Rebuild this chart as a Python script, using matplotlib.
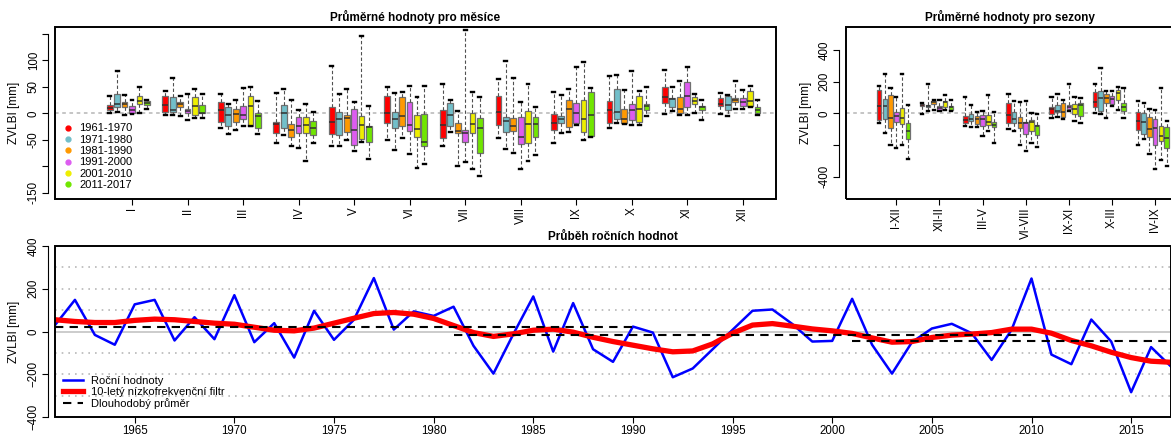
import matplotlib.pyplot as plt
from matplotlib.patches import Rectangle
from matplotlib.lines import Line2D
import numpy as np

plt.rcParams['font.family'] = ['Liberation Sans', 'DejaVu Sans']

# obdobi a barvy krabic
obdobi = ['1961-1970', '1971-1980', '1981-1990', '1991-2000', '2001-2010', '2011-2017']
barvy = ['#FF0000', '#72BFCA', '#FF9900', '#DD5CF0', '#EEEE00', '#70E600']

mesice = ['I', 'II', 'III', 'IV', 'V', 'VI', 'VII', 'VIII', 'IX', 'X', 'XI', 'XII']
sezony = ['I-XII', 'XII-II', 'III-V', 'VI-VIII', 'IX-XI', 'X-III', 'IV-IX']

# mesice: radek = mesic, sloupec = obdobi
mes_hi = [[32, 80, 35, 26, 49, 26], [42, 67, 33, 36, 46, 37], [37, 18, 25, 47, 50, 23],
          [38, 46, 26, 7, 18, 3], [90, 36, 45, 21, 146, 14], [50, 38, 40, 52, 31, 52],
          [55, 26, 4, 158, 41, 31], [64, 98, 66, 21, 56, 12], [40, 34, 45, 87, 97, 47],
          [71, 73, 44, 79, 42, 49], [82, 50, 61, 87, 36, 26], [38, 35, 61, 44, 52, 25]]
mes_q3 = [[15, 37, 21, 13, 32, 23], [33, 31, 22, 9, 30, 16], [22, 12, 8, 13, 33, 0],
          [-17, 15, -20, -7, -7, -15], [11, 3, -4, 8, -6, -25], [33, 3, 30, 21, -3, -1],
          [6, 20, -18, -31, 1, -9], [33, -7, -9, -8, 5, -7], [-1, -6, 26, 20, 26, 41],
          [23, 45, 8, 18, 33, 17], [50, 29, 30, 59, 30, 14], [28, 33, 29, 29, 43, 12]]
mes_med = [[10, 17, 17, 6, 23, 20], [15, 7, 17, 4, 13, 1], [6, -4, -2, -4, 13, -6],
           [-20, 0, -32, -25, -23, -28], [-17, -11, -9, -31, -23, -26], [0, -11, -6, -23, -30, -54],
           [-23, -4, -34, -37, -20, -27], [2, -14, -24, -45, -21, -21], [-18, -11, 8, 0, -11, -4],
           [7, 3, -11, 6, 8, 13], [30, 27, 9, 32, 23, 11], [18, 15, 26, 21, 23, 6]]
mes_q1 = [[6, 12, 12, 1, 18, 15], [2, 3, 11, 1, -3, 0], [-16, -25, -16, -10, -24, -28],
          [-37, -28, -45, -37, -37, -42], [-40, -42, -35, -60, -48, -55], [-18, -28, -25, -33, -45, -62],
          [-46, -25, -38, -55, -38, -75], [-22, -35, -33, -59, -57, -44], [-31, -18, -26, -18, -35, -43],
          [-19, -10, -18, -13, -17, 7], [20, 11, 1, 11, 18, 6], [13, 6, 21, 13, 13, 1]]
mes_lo = [[0, 3, -4, -1, 0, 9], [-3, -4, -6, -12, -9, -9], [-28, -40, -32, -25, -25, -40],
          [-56, -41, -61, -66, -90, -57], [-61, -62, -50, -71, -54, -86], [-50, -69, -47, -77, -103, -95],
          [-61, -35, -100, -93, -105, -119], [-47, -67, -76, -106, -90, -78], [-56, -37, -35, -22, -50, -45],
          [-27, -18, -21, -22, -22, -5], [-1, 5, -3, -3, 1, -13], [-2, -6, 8, 8, 11, -3]]

# sezony: radek = sezona, sloupec = obdobi
sez_hi = [[174, 250, 163, 104, 250, 55], [68, 182, 87, 87, 114, 83], [104, 51, 11, 13, 114, 6],
          [121, 76, 72, 78, 4, -2], [104, 125, 83, 182, 104, 97], [182, 288, 138, 138, 167, 163],
          [76, 66, 30, 21, 157, -51]]
sez_q3 = [[150, 91, 114, 11, 36, -63], [59, 55, 78, 44, 78, 49], [-15, -2, -15, -13, -8, -57],
          [68, 11, -25, -53, -40, -72], [40, 55, 66, 55, 61, 66], [135, 138, 121, 112, 150, 63],
          [11, 4, -25, -38, -78, -85]]
sez_med = [[44, 44, -32, -17, -28, -110], [53, 49, 70, 36, 70, 38], [-42, -34, -38, -38, -57, -72],
           [-11, -38, -59, -61, -57, -83], [30, 17, 11, 40, 30, 55], [72, 95, 97, 91, 127, 42],
           [-51, -55, -99, -93, -146, -157]]
sez_q1 = [[-40, -38, -95, -57, -68, -163], [44, 40, 57, 19, 42, 21], [-61, -49, -70, -83, -72, -87],
          [-63, -63, -91, -133, -114, -138], [-2, 11, -21, 28, -6, -19], [38, 17, 68, 57, 85, 15],
          [-106, -129, -152, -197, -176, -216]]
sez_lo = [[-61, -125, -199, -218, -199, -286], [-4, 17, 19, 13, 19, 13], [-83, -89, -87, -142, -110, -188],
          [-102, -114, -199, -235, -188, -210], [-28, -21, -38, 15, -49, -63], [4, -6, -32, 47, 19, -32],
          [-199, -163, -260, -349, -294, -334]]

# rocni hodnoty
roky = np.arange(1961, 2018)
rocni = [30, 148, -16, -62, 127, 148, -42, 67, -36, 170, -50, 39, -122, 97, -39, 55, 250, 9, 94, 73,
         116, -67, -197, -12, 164, -94, 133, -83, -142, 23, -5, -214, -173, -83, 8, 97, 103, 35, -47, -44,
         153, -62, -197, -50, 14, 36, -8, -133, 8, 248, -108, -153, 56, -47, -284, -73, -164]
filtr = [55, 47, 42, 42, 52, 58, 55, 47, 39, 34, 20, 6, 3, 16, 39, 62, 84, 89, 81, 61,
         28, -5, -23, -11, 6, 11, -3, -27, -47, -64, -81, -95, -91, -58, -8, 30, 37, 25, 12, 3,
         -9, -30, -50, -47, -28, -17, -12, -5, 11, 11, -8, -42, -67, -97, -122, -139, -144]
normal_od = [1961, 1981, 2001]
normal_do = [1990, 2010, 2017]
normal_val = [23, -16, -45]

W, H = 1171, 441
fig = plt.figure(figsize=(W / 100, H / 100), dpi=100)


def px(l, t, r, b):
    return [l / W, 1 - b / H, (r - l) / W, (b - t) / H]


def ramecek(ax):
    for s in ax.spines.values():
        s.set_visible(False)
    ax.add_patch(Rectangle((0, 0), 1, 1, transform=ax.transAxes, fill=False,
                           lw=1.4, ec='black', clip_on=False, zorder=10))
    ax.spines['left'].set_visible(True)
    ax.spines['left'].set_position(('outward', 5))
    ax.tick_params(labelsize=8.3, length=4, width=0.8, pad=2)


def krabice(ax, hi, q3, med, q1, lo):
    for j in range(6):
        stats = []
        for g in range(len(hi)):
            stats.append(dict(whislo=lo[g][j], q1=q1[g][j], med=med[g][j],
                              q3=q3[g][j], whishi=hi[g][j]))
        ax.bxp(stats, positions=np.arange(len(hi)) * 7.5 + j, widths=0.78,
               patch_artist=True, showfliers=False, manage_ticks=False, capwidths=0.4,
               boxprops=dict(facecolor=barvy[j], edgecolor='#707070', lw=0.9),
               medianprops=dict(color='#303030', lw=1.1),
               whiskerprops=dict(color='#505050', ls=(0, (3, 2)), lw=0.8),
               capprops=dict(color='black', lw=1.7))
    ax.axhline(0, color='#C0C0C0', ls=(0, (2, 2)), lw=1.3, zorder=0)


# --- mesice
ax1 = fig.add_axes(px(55, 27, 776, 199))
ramecek(ax1)
krabice(ax1, mes_hi, mes_q3, mes_med, mes_q1, mes_lo)
ax1.set_xlim(-7.4, 90)
ax1.set_ylim(-162, 163)
ax1.set_xticks(np.arange(12) * 7.5 + 3)
ax1.set_xticklabels(mesice, rotation=90)
ax1.set_yticks([-150, -100, -50, 0, 50, 100, 150])
ax1.set_yticklabels(['-150', '', '-50', '0', '50', '100', ''], rotation=90, va='center')
ax1.spines['left'].set_bounds(-150, 150)
ax1.set_ylabel('ZVLBI [mm]', fontsize=8.5)
ax1.yaxis.set_label_coords(-0.048, 0.5)
ax1.set_title('Průměrné hodnoty pro měsíce', fontsize=8.5, fontweight='bold', pad=4)
h = [Line2D([], [], ls='', marker='o', ms=3.5, color=c) for c in barvy]
ax1.legend(h, obdobi, loc='lower left', frameon=False, fontsize=8, handlelength=0.8,
           handletextpad=0.6, labelspacing=0.12, borderaxespad=0.4)

# --- sezony
ax2 = fig.add_axes(px(846, 27, 1173, 199))
ramecek(ax2)
krabice(ax2, sez_hi, sez_q3, sez_med, sez_q1, sez_lo)
ax2.set_xlim(-5.74, 51.1)
ax2.set_ylim(-541, 545)
ax2.set_xticks(np.arange(7) * 7.5 + 3)
ax2.set_xticklabels(sezony, rotation=90)
ax2.set_yticks([-400, -200, 0, 200, 400])
ax2.set_yticklabels(['-400', '', '0', '200', '400'], rotation=90, va='center')
ax2.spines['left'].set_bounds(-400, 400)
ax2.set_ylabel('ZVLBI [mm]', fontsize=8.5)
ax2.yaxis.set_label_coords(-0.105, 0.5)
ax2.set_title('Průměrné hodnoty pro sezony', fontsize=8.5, fontweight='bold', pad=4)

# --- rocni prubeh
ax3 = fig.add_axes(px(55, 246, 1171, 417))
ramecek(ax3)
for v in [-300, -200, -100, 100, 200, 300]:
    ax3.axhline(v, color='#B8B8B8', ls=(0, (1, 3)), lw=1.2, zorder=0)
ax3.axhline(0, color='#C8C8C8', lw=1.3, zorder=0)
ax3.plot(roky, rocni, color='blue', lw=1.8, label='Roční hodnoty')
ax3.plot(roky, filtr, color='red', lw=3.8, label='10-letý nízkofrekvenční filtr')
for i in range(3):
    ax3.plot([normal_od[i], normal_do[i]], [normal_val[i]] * 2, color='black', ls=(0, (4, 3)), lw=1.5,
             label='Dlouhodobý průměr' if i == 0 else None)
ax3.set_xlim(1961, 2017)
ax3.set_ylim(-400, 400)
ax3.set_xticks(np.arange(1965, 2016, 5))
ax3.set_yticks([-400, -200, 0, 200, 400])
plt.setp(ax3.get_yticklabels(), rotation=90, va='center')
ax3.set_ylabel('ZVLBI [mm]', fontsize=8.5)
ax3.yaxis.set_label_coords(-0.031, 0.5)
ax3.set_title('Průběh ročních hodnot', fontsize=8.5, fontweight='bold', pad=4)
ax3.legend(loc='lower left', frameon=False, fontsize=8, handlelength=1.8,
           handletextpad=0.7, labelspacing=0.12, borderaxespad=0.3)

plt.savefig('out.png', dpi=100)
